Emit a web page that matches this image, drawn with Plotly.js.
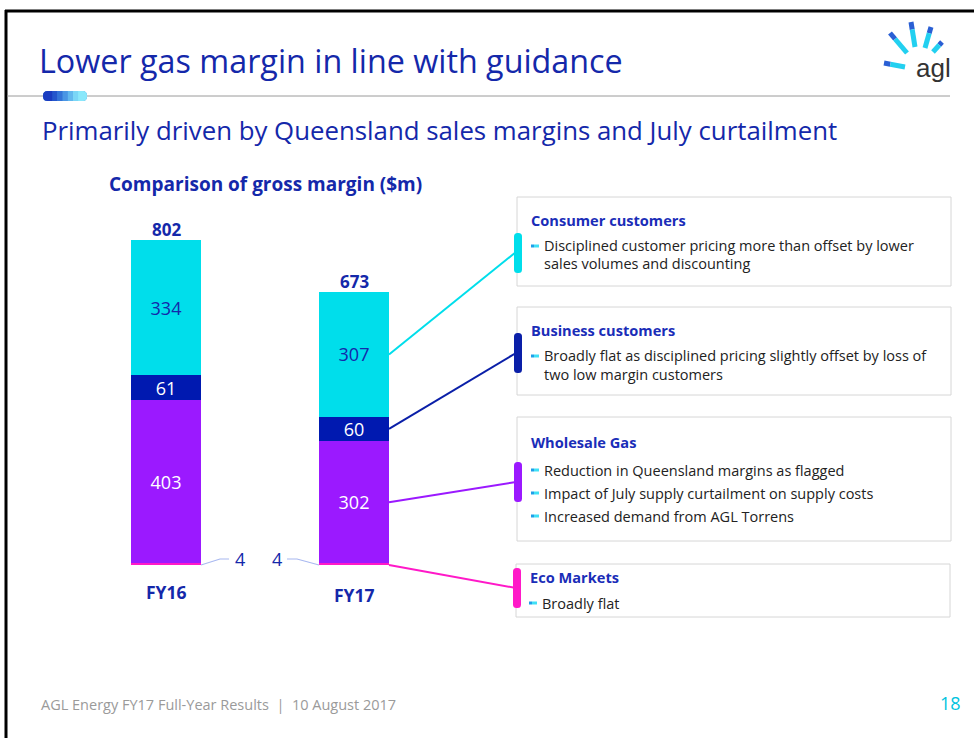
<!DOCTYPE html>
<html><head><meta charset="utf-8">
<script src="https://cdn.plot.ly/plotly-3.0.1.min.js"></script>
<style>html,body{margin:0;padding:0;background:#fff;}#chart{width:974px;height:738px;}</style>
</head><body><div id="chart"></div>
<script>
// ---- data ----
const categories = ['FY16', 'FY17'];
const ecoMarkets = [4, 4];
const wholesaleGas = [403, 302];
const businessCustomers = [61, 60];
const consumerCustomers = [334, 307];
const totals = [802, 673];

const seriesNames = ['Eco Markets', 'Wholesale Gas', 'Business customers', 'Consumer customers'];
const boxHeaders = ['Consumer customers', 'Business customers', 'Wholesale Gas', 'Eco Markets'];
const boxBullets = [
  [['Disciplined customer pricing more than offset by lower', 'sales volumes and discounting']],
  [['Broadly flat as disciplined pricing slightly offset by loss of', 'two low margin customers']],
  [['Reduction in Queensland margins as flagged'], ['Impact of July supply curtailment on supply costs'], ['Increased demand from AGL Torrens']],
  [['Broadly flat']]
];
const titleText = 'Lower gas margin in line with guidance';
const subtitleText = 'Primarily driven by Queensland sales margins and July curtailment';
const chartTitle = 'Comparison of gross margin ($m)';
const footerText = 'AGL Energy FY17 Full-Year Results  |  10 August 2017';
const pageNumber = '18';

// ---- styling / geometry ----
const W = 974, H = 738;
const colors = {eco: '#FF19C8', whole: '#9B19FF', bus: '#0019B0', cons: '#00DEEB'};
const navy = '#1428AA';
const font = 'Open Sans, Noto Sans, sans-serif';
const X = p => p / W, Y = p => 1 - p / H;
const k = 325 / 802;             // px per $m
const zeroPx = 565, yMin = -80, yMax = 900;
const yBottomPx = zeroPx - yMin * k, yTopPx = zeroPx - yMax * k;
const xLeftPx = 72, xRightPx = 530, catPx = 188, barPx = 70, x0Px = 166;
const pxToX = p => (p - x0Px) / catPx;
const pxToY = p => (zeroPx - p) / k;
const halfBar = barPx / catPx / 2;

function bar(name, vals, color, textColor, showText) {
  return {
    type: 'bar', name: name, x: categories, y: vals,
    marker: {color: color, line: {width: 0}},
    text: showText ? vals.map(String) : vals.map(() => ''),
    textposition: showText ? 'inside' : 'none',
    insidetextanchor: 'middle', textangle: 0, constraintext: 'none',
    textfont: {family: font, size: 18, color: textColor},
    hoverinfo: 'skip'
  };
}
const data = [
  bar(seriesNames[0], ecoMarkets, colors.eco, '#fff', false),
  bar(seriesNames[1], wholesaleGas, colors.whole, '#ffffff', true),
  bar(seriesNames[2], businessCustomers, colors.bus, '#ffffff', true),
  bar(seriesNames[3], consumerCustomers, colors.cons, navy, true)
];

const shapes = [];
const annotations = [];

// page frame
shapes.push({type: 'line', xref: 'paper', yref: 'paper', x0: X(5), x1: X(974), y0: Y(11), y1: Y(11), line: {color: '#000', width: 3}});
shapes.push({type: 'line', xref: 'paper', yref: 'paper', x0: X(6), x1: X(6), y0: Y(10), y1: Y(738), line: {color: '#000', width: 3}});
// header rule + pill
shapes.push({type: 'line', xref: 'paper', yref: 'paper', x0: X(7), x1: X(950), y0: Y(96), y1: Y(96), line: {color: '#9a9a9a', width: 1}});
function roundRect(x0, y0, x1, y1, r) {
  return 'M' + X(x0 + r) + ',' + Y(y0) + ' L' + X(x1 - r) + ',' + Y(y0) +
    ' Q' + X(x1) + ',' + Y(y0) + ' ' + X(x1) + ',' + Y(y0 + r) +
    ' L' + X(x1) + ',' + Y(y1 - r) +
    ' Q' + X(x1) + ',' + Y(y1) + ' ' + X(x1 - r) + ',' + Y(y1) +
    ' L' + X(x0 + r) + ',' + Y(y1) +
    ' Q' + X(x0) + ',' + Y(y1) + ' ' + X(x0) + ',' + Y(y1 - r) +
    ' L' + X(x0) + ',' + Y(y0 + r) +
    ' Q' + X(x0) + ',' + Y(y0) + ' ' + X(x0 + r) + ',' + Y(y0) + ' Z';
}
const pillCols = ['#1a3cc0', '#2456cc', '#3474d8', '#4a96e4', '#62b8ee', '#7ad6f6', '#8ae8fb'];
shapes.push({type: 'path', xref: 'paper', yref: 'paper', path: roundRect(43, 91, 87, 101, 4.5), fillcolor: '#4a96e4', line: {width: 0}});
shapes.push({type: 'path', xref: 'paper', yref: 'paper', path: roundRect(43, 91, 55, 101, 4.5), fillcolor: '#1a3cc0', line: {width: 0}});
shapes.push({type: 'path', xref: 'paper', yref: 'paper', path: roundRect(75, 91, 87, 101, 4.5), fillcolor: '#8ae8fb', line: {width: 0}});
for (let i = 0; i < pillCols.length; i++) {
  const a = 47 + i * 5.2, b = a + 5.4;
  shapes.push({type: 'rect', xref: 'paper', yref: 'paper', x0: X(a), x1: X(b), y0: Y(91), y1: Y(101), fillcolor: pillCols[i], line: {width: 0}});
}

// logo rays
const rays = [[884, 63, 905, 67], [890, 33, 907, 53], [911, 22, 915, 47], [931, 27, 925, 48], [942, 42, 933, 52]];
rays.forEach(r => {
  const mx = r[0] + (r[2] - r[0]) * 0.3, my = r[1] + (r[3] - r[1]) * 0.3;
  shapes.push({type: 'line', xref: 'paper', yref: 'paper', x0: X(r[0]), y0: Y(r[1]), x1: X(mx), y1: Y(my), line: {color: '#2a5fd4', width: 5}});
  shapes.push({type: 'line', xref: 'paper', yref: 'paper', x0: X(mx), y0: Y(my), x1: X(r[2]), y1: Y(r[3]), line: {color: '#22d0f0', width: 5}});
});
annotations.push({xref: 'paper', yref: 'paper', x: X(933), y: Y(68), text: 'agl', showarrow: false, xanchor: 'center', yanchor: 'middle',
  font: {family: 'Liberation Sans, Arial, sans-serif', size: 26, color: '#333'}});

// subtitle, chart title, footer, page number
annotations.push({xref: 'paper', yref: 'paper', x: X(40), y: Y(130), text: subtitleText, showarrow: false, xanchor: 'left', yanchor: 'middle',
  font: {family: font, size: 25.8, color: navy}});
annotations.push({xref: 'paper', yref: 'paper', x: X(107), y: Y(184), text: '<b>' + chartTitle + '</b>', showarrow: false, xanchor: 'left', yanchor: 'middle',
  font: {family: font, size: 19, color: navy}});
annotations.push({xref: 'paper', yref: 'paper', x: X(39), y: Y(704), text: footerText.replace(/  /g, '&nbsp;&nbsp;'), showarrow: false, xanchor: 'left', yanchor: 'middle',
  font: {family: font, size: 14.5, color: '#9a9a9a'}});
annotations.push({xref: 'paper', yref: 'paper', x: X(950), y: Y(703), text: pageNumber, showarrow: false, xanchor: 'center', yanchor: 'middle',
  font: {family: font, size: 18, color: '#00C4DE'}});

// totals and category labels
categories.forEach((c, i) => {
  annotations.push({xref: 'x', yref: 'y', x: c, y: totals[i], text: '<b>' + totals[i] + '</b>', showarrow: false, yanchor: 'bottom', yshift: -3,
    font: {family: font, size: 17, color: navy}});
  annotations.push({xref: 'x', yref: 'paper', x: c, y: Y(592 + 3 * i), text: '<b>' + c + '</b>', showarrow: false, yanchor: 'middle',
    font: {family: font, size: 17.5, color: navy}});
});

// eco "4" labels with leader lines
const ecoLabelPx = [240, 277];
categories.forEach((c, i) => {
  annotations.push({xref: 'paper', yref: 'paper', x: X(ecoLabelPx[i]), y: Y(559), text: String(ecoMarkets[i]), showarrow: false, xanchor: 'center', yanchor: 'middle',
    font: {family: font, size: 18, color: navy}});
  const edge = i === 0 ? i + halfBar : i - halfBar;
  const p1 = i === 0 ? 220 : 297, p2 = i === 0 ? 229 : 287;
  shapes.push({type: 'path', xref: 'x', yref: 'y',
    path: 'M' + edge + ',0 L' + pxToX(p1) + ',' + pxToY(559) + ' L' + pxToX(p2) + ',' + pxToY(559),
    line: {color: '#a8b8f0', width: 1.2}});
});

// callout boxes
const boxPx = [[517, 197, 951, 286], [517, 307, 951, 395], [517, 417, 951, 541], [516, 564, 950, 617]];
const headerY = [220, 330, 442, 577];
const bulletLineY = [[[246, 264]], [[356, 374]], [[470], [493], [516]], [[603]]];
const tabPx = [[233, 273], [333, 373], [462, 502], [568, 608]];
const tabColors = [colors.cons, '#0A1FA8', colors.whole, colors.eco];
const connEndY = [252, 353, 482, 588];
const fy17 = [ecoMarkets[1], wholesaleGas[1], businessCustomers[1], consumerCustomers[1]];
// segment midpoints (from stacked data), ordered like the boxes
const cum = [];
let acc = 0;
fy17.forEach(v => { cum.push(acc + v / 2); acc += v; });
const connStartY = [cum[3], cum[2], cum[1], 0];

boxPx.forEach((b, i) => {
  const ex = i === 3 ? -1 : 0;
  shapes.push({type: 'rect', xref: 'paper', yref: 'paper', x0: X(b[0]), x1: X(b[2]), y0: Y(b[1]), y1: Y(b[3]), line: {color: '#d6d6d6', width: 1}, fillcolor: 'rgba(0,0,0,0)'});
  // connector
  shapes.push({type: 'line', xref: 'x', yref: 'y', x0: 1 + halfBar, y0: connStartY[i], x1: pxToX(516), y1: pxToY(connEndY[i]),
    line: {color: tabColors[i], width: 2}});
  // tab
  shapes.push({type: 'path', xref: 'paper', yref: 'paper', path: roundRect(514 + ex, tabPx[i][0], 522 + ex, tabPx[i][1], 3.5), fillcolor: tabColors[i], line: {width: 0}});
  annotations.push({xref: 'paper', yref: 'paper', x: X(529 + ex), y: Y(headerY[i]), text: '<b>' + boxHeaders[i] + '</b>', showarrow: false, xanchor: 'left', yanchor: 'middle',
    font: {family: font, size: 14.6, color: '#1A2DB8'}});
  boxBullets[i].forEach((lines, j) => {
    const ys = bulletLineY[i][j];
    shapes.push({type: 'line', xref: 'paper', yref: 'paper', x0: X(531 + 2 * ex), x1: X(534 + 2 * ex), y0: Y(ys[0]), y1: Y(ys[0]), line: {color: '#1f9fe8', width: 3}});
    shapes.push({type: 'line', xref: 'paper', yref: 'paper', x0: X(534 + 2 * ex), x1: X(539 + 2 * ex), y0: Y(ys[0]), y1: Y(ys[0]), line: {color: '#3fe0f6', width: 3}});
    lines.forEach((ln, m) => {
      annotations.push({xref: 'paper', yref: 'paper', x: X(542 + 2 * ex), y: Y(ys[m]), text: ln, showarrow: false, xanchor: 'left', yanchor: 'middle',
        font: {family: font, size: 14.5, color: '#222'}});
    });
  });
});

const layout = {
  width: W, height: H, autosize: false,
  margin: {l: 0, r: 0, t: 0, b: 0},
  paper_bgcolor: '#fff', plot_bgcolor: 'rgba(0,0,0,0)',
  barmode: 'stack', bargap: 1 - barPx / catPx,
  showlegend: false, hovermode: false,
  title: {text: titleText, x: X(39), xref: 'paper', xanchor: 'left', y: Y(62), yref: 'paper', yanchor: 'middle',
    font: {family: font, size: 32.3, color: navy}},
  xaxis: {type: 'category', range: [pxToX(xLeftPx), pxToX(xRightPx)], domain: [X(xLeftPx), X(xRightPx)], showgrid: false, zeroline: false, showline: false, showticklabels: false, ticks: '', fixedrange: true},
  yaxis: {range: [yMin, yMax], domain: [Y(yBottomPx), Y(yTopPx)], showgrid: false, zeroline: false, showline: false, showticklabels: false, ticks: '', fixedrange: true},
  shapes: shapes, annotations: annotations
};
Plotly.newPlot('chart', data, layout, {displayModeBar: false, staticPlot: true});
</script></body></html>
